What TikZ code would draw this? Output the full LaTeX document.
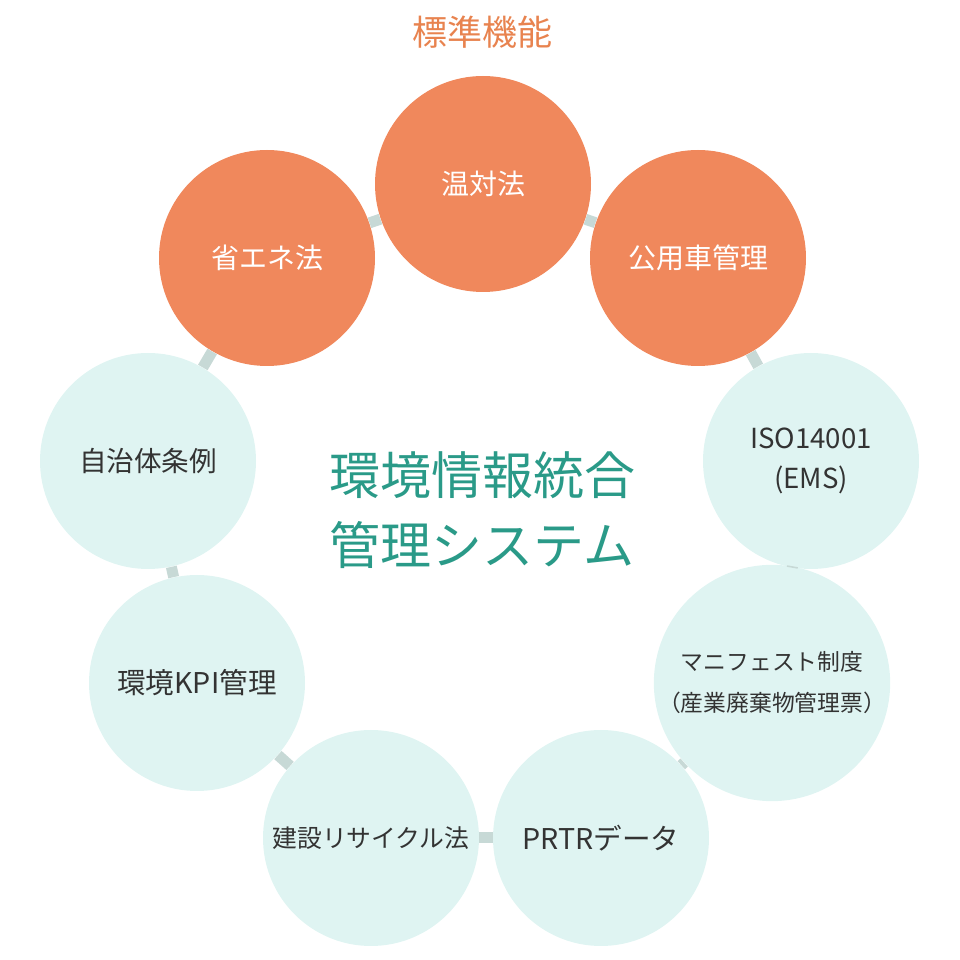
\documentclass[tikz,border=0pt]{standalone}
\usepackage{fontspec}
\newfontfamily\jpfont{Noto Sans CJK JP}

\definecolor{stdorange}{HTML}{F0885C}
\definecolor{titleorange}{HTML}{E8834F}
\definecolor{optcyan}{HTML}{DFF4F2}
\definecolor{linkgray}{HTML}{C7D9D6}
\definecolor{centerteal}{HTML}{2A9A88}
\definecolor{textdark}{HTML}{333333}

\begin{document}
\begin{tikzpicture}[x=0.5pt,y=0.5pt,
    func/.style={circle,minimum size=108pt,inner sep=0pt,align=center,font=\jpfont},
    stdfunc/.style={func,fill=stdorange,text=white,font=\jpfont\fontsize{14}{20}\selectfont},
    optfunc/.style={func,fill=optcyan,text=textdark,font=\jpfont\fontsize{13.8}{20}\selectfont},
    link/.style={draw=linkgray,line width=5.5pt}]
        \useasboundingbox (0,0) rectangle (960,960);

        \node[font=\jpfont\fontsize{17.5}{20}\selectfont,text=titleorange] (title) at (482,928) {標準機能};
        \node[font=\jpfont\fontsize{25.5}{35}\selectfont,text=centerteal,align=center] (system) at (482,450) {環境情報統合\\管理システム};

        \node[stdfunc] (ontai) at (483,776) {温対法};
        \node[stdfunc] (koyosha) at (698,702) {公用車管理};
        \node[optfunc] (iso) at (811,499) {ISO14001\\(EMS)};
        \node[optfunc,font=\jpfont\fontsize{11.4}{20.5}\selectfont] (manifest) at (772,277) {マニフェスト制度\\（産業廃棄物管理票）};
        \node[optfunc,font=\jpfont\fontsize{14.3}{20}\selectfont] (prtr) at (601,122) {PRTRデータ};
        \node[optfunc,font=\jpfont\fontsize{12.4}{20}\selectfont] (kensetsu) at (371,122) {建設リサイクル法};
        \node[optfunc,font=\jpfont\fontsize{14.3}{20}\selectfont] (kpi) at (197,277) {環境KPI管理};
        \node[optfunc] (jorei) at (148,499) {自治体条例};
        \node[stdfunc] (shoene) at (267,702) {省エネ法};

        \path (ontai) edge[link] (koyosha)
              (koyosha) edge[link] (iso)
              (iso) edge[link] (manifest)
              (manifest) edge[link] (prtr)
              (prtr) edge[link] (kensetsu)
              (kensetsu) edge[link] (kpi)
              (kpi) edge[link] (jorei)
              (jorei) edge[link] (shoene)
              (shoene) edge[link] (ontai)
              ;
      \end{tikzpicture}
\end{document}
